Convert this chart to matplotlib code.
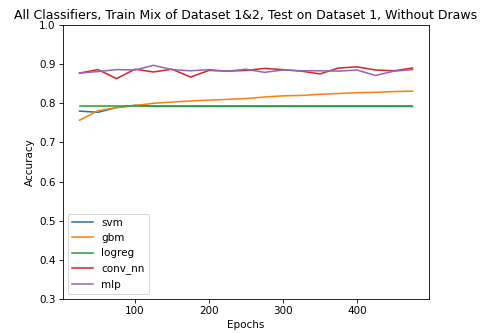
import matplotlib
matplotlib.use("Agg")
import matplotlib.pyplot as plt

epochs = [25, 50, 75, 100, 125, 150, 175, 200, 225, 250, 275, 300, 325, 350, 375, 400, 425, 450, 475]

svm = [0.780, 0.777, 0.789, 0.795, 0.792, 0.792, 0.792, 0.792, 0.792, 0.792,
       0.792, 0.792, 0.792, 0.792, 0.792, 0.792, 0.792, 0.792, 0.792]
gbm = [0.757, 0.781, 0.789, 0.794, 0.800, 0.803, 0.806, 0.808, 0.810, 0.812,
       0.816, 0.819, 0.820, 0.823, 0.825, 0.827, 0.828, 0.830, 0.831]
logreg = [0.793, 0.793, 0.793, 0.793, 0.793, 0.793, 0.793, 0.793, 0.793, 0.793,
          0.793, 0.793, 0.793, 0.793, 0.793, 0.793, 0.793, 0.793, 0.793]
conv_nn = [0.877, 0.886, 0.863, 0.887, 0.880, 0.887, 0.867, 0.884, 0.882, 0.884,
           0.889, 0.886, 0.882, 0.875, 0.890, 0.893, 0.885, 0.883, 0.890]
mlp = [0.877, 0.881, 0.886, 0.885, 0.897, 0.886, 0.883, 0.886, 0.882, 0.887,
       0.879, 0.885, 0.883, 0.883, 0.882, 0.885, 0.871, 0.882, 0.886]

series = [("svm", svm), ("gbm", gbm), ("logreg", logreg), ("conv_nn", conv_nn), ("mlp", mlp)]

fig = plt.figure(figsize=(6.4, 4.44), dpi=75)
ax = fig.add_axes([0.131, 0.102, 0.763, 0.823])
for name, vals in series:
    ax.plot(epochs, vals, label=name)

ax.set_ylim(0.3, 1.0)
ax.set_xlabel("Epochs")
ax.set_ylabel("Accuracy")
ax.set_title("All Classifiers, Train Mix of Dataset 1&2, Test on Dataset 1, Without Draws")
ax.legend(loc="lower left")

fig.savefig("out.png", dpi=75)
